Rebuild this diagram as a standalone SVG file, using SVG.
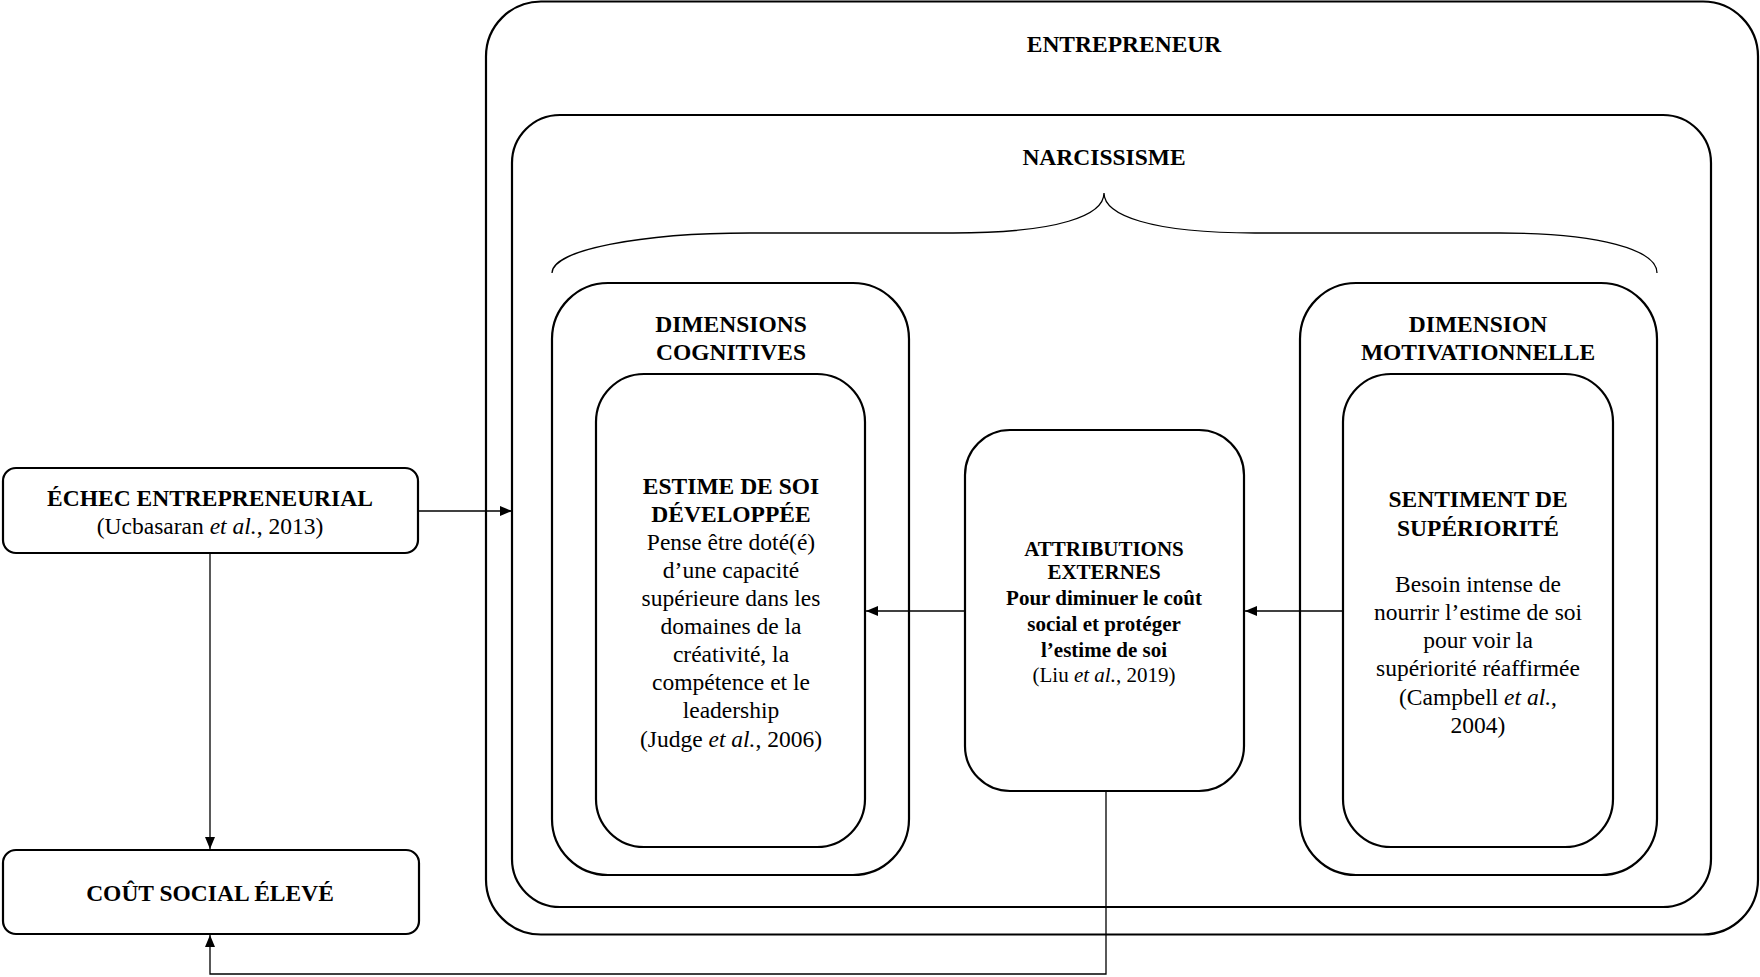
<svg xmlns="http://www.w3.org/2000/svg" width="1760" height="977" viewBox="0 0 1760 977">
<style>
.box{fill:none;stroke:#000;stroke-width:2.2}
.t{font-family:"Liberation Serif","Times New Roman",serif;fill:#000;text-anchor:middle}
.b{font-weight:bold}
.f23{font-size:23.5px}
.f22{font-size:23.5px}
.f20{font-size:21px}
.con{fill:none;stroke:#000;stroke-width:1.3}
</style>
<defs>
<marker id="ah" viewBox="0 0 12 10" refX="12" refY="5" markerWidth="12" markerHeight="10" markerUnits="userSpaceOnUse" orient="auto">
<path d="M0,0 L12,5 L0,10 Z" fill="#000"/>
</marker>
</defs>
<rect width="1760" height="977" fill="#fff"/>

<g id="entrepreneur">
<rect class="box" x="486" y="1.5" width="1272" height="933" rx="55" ry="55"/>
<text class="t b f23" x="1124" y="52">ENTREPRENEUR</text>
</g>

<g id="narcissisme">
<rect class="box" x="512" y="115" width="1199" height="792" rx="48" ry="48"/>
<text class="t b f23" x="1104" y="165">NARCISSISME</text>
<path class="con" stroke-width="1.2" d="M552,273 C552,250 640,233 750,233 L953,233 C1060,233 1104,215 1104,193 C1104,215 1150,233 1255,233 L1500,233 C1600,233 1657,250 1657,273"/>
</g>

<g id="dim-cognitives">
<rect class="box" x="552" y="283" width="357" height="592" rx="56" ry="56"/>
<text class="t b f23" x="731" y="332">DIMENSIONS</text>
<text class="t b f23" x="731" y="360">COGNITIVES</text>
</g>

<g id="estime">
<rect class="box" x="596" y="374" width="269" height="473" rx="48" ry="48"/>
<text class="t b f23" x="731" y="494">ESTIME DE SOI</text>
<text class="t b f23" x="731" y="522">DÉVELOPPÉE</text>
<text class="t f22" x="731" y="550">Pense être doté(é)</text>
<text class="t f22" x="731" y="578">d’une capacité</text>
<text class="t f22" x="731" y="606">supérieure dans les</text>
<text class="t f22" x="731" y="634">domaines de la</text>
<text class="t f22" x="731" y="662">créativité, la</text>
<text class="t f22" x="731" y="690">compétence et le</text>
<text class="t f22" x="731" y="718">leadership</text>
<text class="t f22" x="731" y="747">(Judge <tspan font-style="italic">et al.</tspan>, 2006)</text>
</g>

<g id="dim-motivationnelle">
<rect class="box" x="1300" y="283" width="357" height="592" rx="56" ry="56"/>
<text class="t b f23" x="1478" y="332">DIMENSION</text>
<text class="t b f23" x="1478" y="360">MOTIVATIONNELLE</text>
</g>

<g id="sentiment">
<rect class="box" x="1343" y="374" width="270" height="473" rx="48" ry="48"/>
<text class="t b f23" x="1478" y="507">SENTIMENT DE</text>
<text class="t b f23" x="1478" y="536">SUPÉRIORITÉ</text>
<text class="t f22" x="1478" y="592">Besoin intense de</text>
<text class="t f22" x="1478" y="620">nourrir l’estime de soi</text>
<text class="t f22" x="1478" y="648">pour voir la</text>
<text class="t f22" x="1478" y="676">supériorité réaffirmée</text>
<text class="t f22" x="1478" y="705">(Campbell <tspan font-style="italic">et al.</tspan>,</text>
<text class="t f22" x="1478" y="733">2004)</text>
</g>

<g id="attributions">
<rect class="box" x="965" y="430" width="279" height="361" rx="45" ry="45"/>
<text class="t b f20" x="1104" y="556">ATTRIBUTIONS</text>
<text class="t b f20" x="1104" y="579">EXTERNES</text>
<text class="t b f20" x="1104" y="605">Pour diminuer le coût</text>
<text class="t b f20" x="1104" y="631">social et protéger</text>
<text class="t b f20" x="1104" y="657">l’estime de soi</text>
<text class="t f20" x="1104" y="682">(Liu <tspan font-style="italic">et al.</tspan>, 2019)</text>
</g>

<g id="echec">
<rect class="box" x="3" y="468" width="415" height="85" rx="13" ry="13"/>
<text class="t b f23" x="210" y="506">ÉCHEC ENTREPRENEURIAL</text>
<text class="t f23" x="210" y="534">(Ucbasaran <tspan font-style="italic">et al.</tspan>, 2013)</text>
</g>

<g id="cout">
<rect class="box" x="3" y="850" width="416" height="84" rx="13" ry="13"/>
<text class="t b f23" x="210" y="901">COÛT SOCIAL ÉLEVÉ</text>
</g>

<g id="connectors">
<line class="con" x1="418" y1="511" x2="512" y2="511" marker-end="url(#ah)"/>
<line class="con" x1="210" y1="553" x2="210" y2="849" marker-end="url(#ah)"/>
<line class="con" x1="965" y1="611" x2="866" y2="611" marker-end="url(#ah)"/>
<line class="con" x1="1343" y1="611" x2="1245" y2="611" marker-end="url(#ah)"/>
<path class="con" d="M1106,791 L1106,974 L210,974 L210,935" marker-end="url(#ah)"/>
</g>
</svg>
